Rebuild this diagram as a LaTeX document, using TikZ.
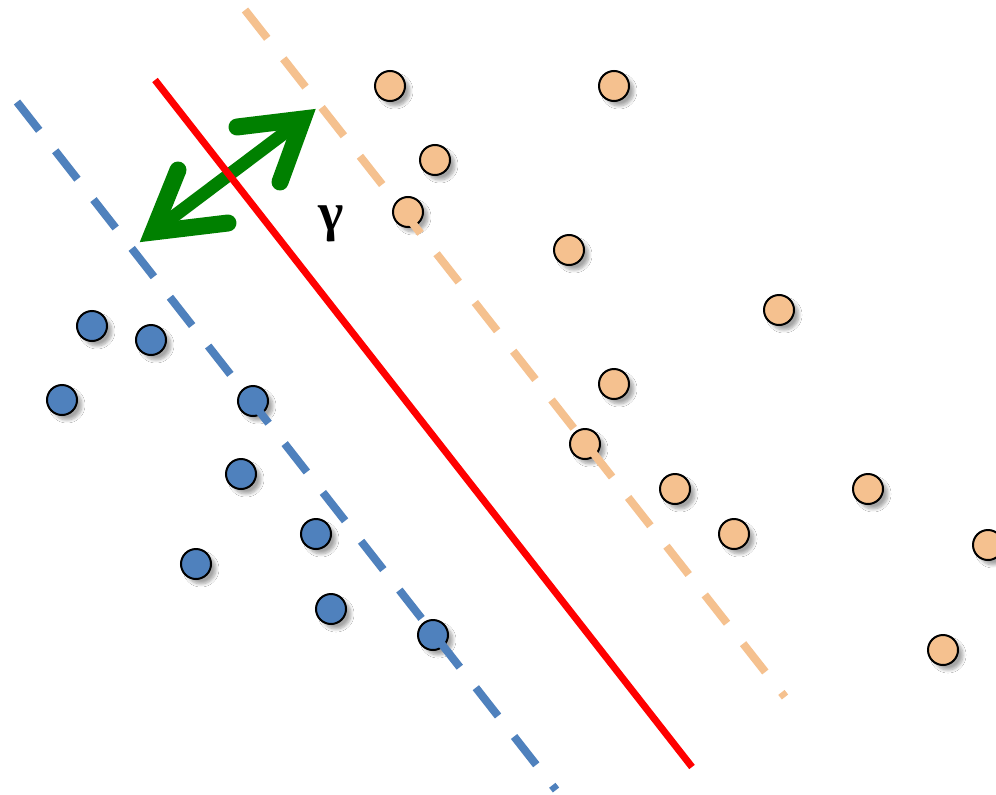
\documentclass[tikz,border=0pt]{standalone}
\usepackage{fontspec}
\newfontfamily\gfont{Liberation Serif}
\usetikzlibrary{shadows.blur}
\definecolor{lorange}{HTML}{F5C18F}
\definecolor{sblue}{HTML}{4F81BD}
\definecolor{dgreen}{HTML}{008000}
\begin{document}
\begin{tikzpicture}[x=1pt,y=-1pt,
 dot/.style={circle, draw=black, line width=2pt, minimum size=30pt, inner sep=0pt,
   blur shadow={shadow xshift=5pt, shadow yshift=-5pt, shadow blur radius=3pt, shadow blur steps=8, shadow opacity=35}},
 odot/.style={dot, fill=lorange},
 bdot/.style={dot, fill=sblue},
 margin/.style={line width=8pt, dash pattern=on 36pt off 26pt},
 barb/.style={dgreen, line width=17pt, line cap=round, line join=miter},
 shaft/.style={dgreen, line width=13pt},
]
\useasboundingbox (0,0) rectangle (996,795);
\fill[white] (0,0) rectangle (996,795);
% orange points
\foreach \n/\x/\y in {o1/390/86, o2/614/86, o3/435/160, o4/408/212, o5/569/250, o6/779/310,
  o7/614/384, o8/585/444, o9/675/489, o10/734/534, o11/868/489, o12/988/545, o13/943/650}
  \node[odot] (\n) at (\x,\y) {};
% blue points
\foreach \n/\x/\y in {b1/92/326, b2/151/340, b3/62/400, b4/253/401, b5/241/474, b6/316/534,
  b7/196/564, b8/331/609, b9/433/635}
  \node[bdot] (\n) at (\x,\y) {};
% margin arrow
\coordinate (ua) at (303,119);
\coordinate (ub1) at (237,127);
\coordinate (ub2) at (280,182);
\coordinate (la) at (153,232);
\coordinate (lb1) at (178,170);
\coordinate (lb2) at (228,223);
\draw[shaft] (la) -- (ua);
\draw[barb] (ub1) -- (ua) -- (ub2);
\draw[barb] (lb1) -- (la) -- (lb2);
% lines
\coordinate (os) at (245,10);
\coordinate (oe) at (785,697);
\coordinate (rs) at (155,80);
\coordinate (re) at (692,767);
\coordinate (bs) at (17,102);
\coordinate (be) at (556,790);
\draw[margin, lorange] (os) -- (oe);
\draw[margin, sblue] (bs) -- (be);
\draw[red, line width=7pt] (rs) -- (re);
\node (gamma) at (331,224) {\gfont\bfseries\fontsize{54}{54}\selectfont γ};
\end{tikzpicture}
\end{document}
